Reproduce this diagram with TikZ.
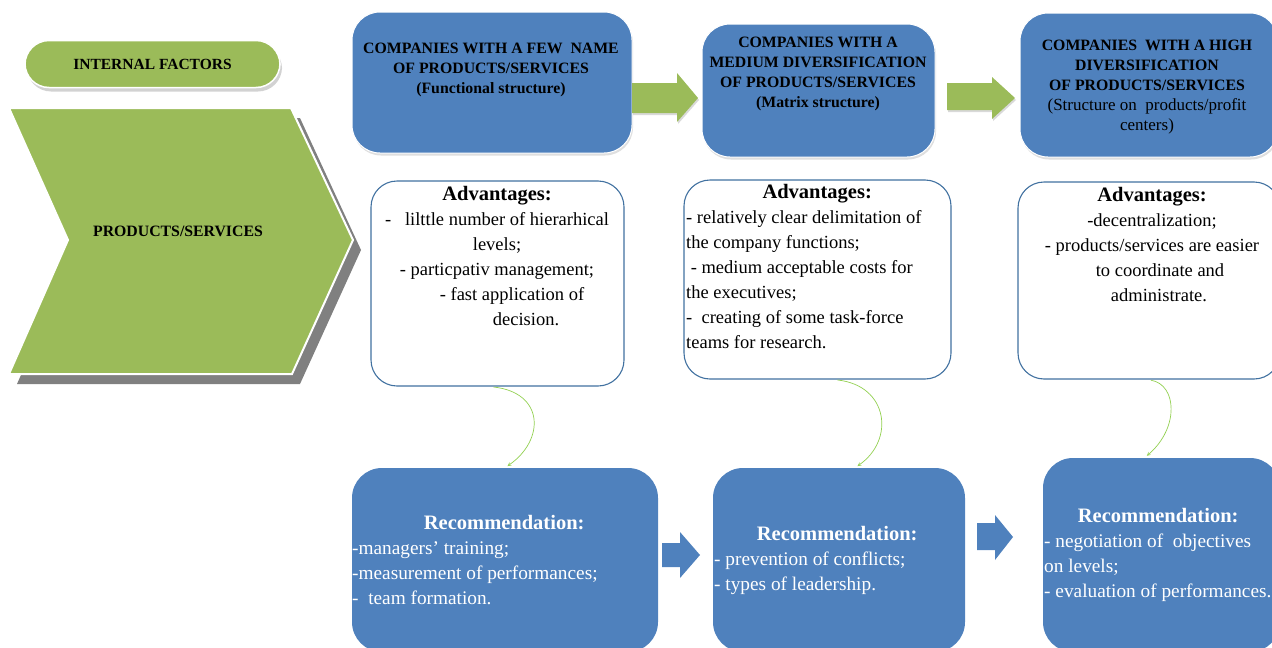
\documentclass[tikz,border=0pt]{standalone}
\usepackage{fontspec}
\setmainfont{Liberation Serif}
\usetikzlibrary{arrows,shadows,calc}
\definecolor{fac_green}{RGB}{155,187,89}
\definecolor{box_blue}{RGB}{79,129,189}
\definecolor{line_blue}{RGB}{65,113,160}
\definecolor{link_green}{RGB}{146,208,80}
\definecolor{shade_gray}{RGB}{128,128,128}
\newcommand{\hd}[1]{{\bfseries\fontsize{20.5}{25}\selectfont #1}}
\tikzstyle{pill}=[rectangle,rounded corners=24pt,fill=fac_green,draw=white,
  line width=1.5pt,minimum width=255pt,minimum height=47pt,
  drop shadow={shadow xshift=2pt,shadow yshift=-4pt,fill=shade_gray!70},
  font=\bfseries\fontsize{15.5}{20}\selectfont]
\tikzstyle{topbox}=[rectangle,rounded corners=28pt,fill=box_blue,draw=white,
  line width=1pt,drop shadow={shadow xshift=1pt,shadow yshift=-2.5pt,fill=shade_gray!50}]
\tikzstyle{advbox}=[rectangle,rounded corners=26pt,fill=white,draw=line_blue,
  line width=1.1pt]
\tikzstyle{recbox}=[rectangle,rounded corners=30pt,fill=box_blue]
\tikzstyle{caps}=[align=center,inner sep=0pt,font=\bfseries\fontsize{15.8}{20}\selectfont]
\tikzstyle{body}=[inner sep=0pt,font=\fontsize{18.5}{25}\selectfont]
\tikzstyle{wbody}=[inner sep=0pt,text=white,font=\fontsize{19.3}{25}\selectfont]
\tikzstyle{garrow}=[fill=fac_green,drop shadow={shadow xshift=1pt,shadow yshift=-2pt,fill=shade_gray!60}]
\tikzstyle{barrow}=[fill=box_blue]
\tikzstyle{curl}=[draw=link_green,line width=0.7pt,->,>=stealth,
  shorten <=4pt,shorten >=3pt]
\tikzstyle{none}=[]
\begin{document}
\begin{tikzpicture}[x=1pt,y=-1pt]
	\useasboundingbox (0,0) rectangle (1272,648);
	\clip (0,0) rectangle (1272,648);
	% left column
	\node [style=pill] (0) at (152.5, 64) {INTERNAL FACTORS};
	\fill [shade_gray] (17,118) -- (300,118) -- (361,250) -- (300,384) -- (17,384) -- (76,250) -- cycle;
	\filldraw [fill=fac_green,draw=white,line width=2pt] (9,108) -- (291,108) -- (353,240) -- (292,374) -- (9,374) -- (68,240) -- cycle;
	\node [style=caps] (1) at (178, 231) {PRODUCTS/SERVICES};
	% top row
	\node [style=topbox, minimum width=280pt, minimum height=141pt] (2) at (492, 82.5) {};
	\node [style=topbox, minimum width=233pt, minimum height=133pt] (3) at (818.5, 90.5) {};
	\node [style=topbox, minimum width=258pt, minimum height=144pt] (4) at (1149, 85) {};
	\node [style=caps] (5) at (491, 70) {COMPANIES WITH A FEW\ \ NAME\\ OF PRODUCTS/SERVICES\\ (Functional structure)};
	\node [style=caps] (6) at (818, 74) {COMPANIES WITH A\\ MEDIUM DIVERSIFICATION\\ OF PRODUCTS/SERVICES\\ (Matrix structure)};
	\node [style=caps] (7) at (1147, 87) {COMPANIES\ \ WITH A HIGH\\ DIVERSIFICATION\\ OF PRODUCTS/SERVICES\\ {\mdseries\fontsize{17}{20}\selectfont (Structure on\ \ products/profit}\\ {\mdseries\fontsize{17}{20}\selectfont centers)}};
	\fill [style=garrow] (632,83) -- (677,83) -- (677,73) -- (698,98) -- (677,122) -- (677,113) -- (632,113) -- cycle;
	\fill [style=garrow] (947,83) -- (992,83) -- (992,77) -- (1015,98) -- (992,119) -- (992,110) -- (947,110) -- cycle;
	% advantages
	\node [style=advbox, minimum width=253pt, minimum height=205pt] (8) at (497.5, 283.5) {};
	\node [style=advbox, minimum width=267pt, minimum height=199pt] (9) at (817.5, 279.5) {};
	\node [style=advbox, minimum width=262pt, minimum height=197pt] (10) at (1149, 280.5) {};
	\node [style=body, align=center] (11) at (497, 256) {\hd{Advantages:}\\ -\ \ \ lilttle number of hierarhical\\ levels;\\ - particpativ management;\\ \hspace*{30pt}- fast application of\\ \hspace*{58pt}decision.};
	\node [style=body, align=left, anchor=west] (12) at (686, 267) {\makebox[262pt]{\hd{Advantages:}}\\ - relatively clear delimitation of\\ the company functions;\\ \ - medium acceptable costs for\\ the executives;\\ -\ \ creating of some task-force\\ teams for research.};
	\node [style=body, align=center] (13) at (1152, 245) {\hd{Advantages:}\\ -decentralization;\\ - products/services are easier\\ \hspace*{16pt}to coordinate and\\ \hspace*{14pt}administrate.};
	% recommendations
	\node [style=recbox, minimum width=306pt, minimum height=184pt] (14) at (505, 560) {};
	\node [style=recbox, minimum width=252pt, minimum height=184pt] (15) at (839, 560) {};
	\node [style=recbox, minimum width=237pt, minimum height=194pt] (16) at (1161.5, 555) {};
	\node [style=wbody, align=left, anchor=west] (17) at (352, 560) {\makebox[304pt]{\hd{Recommendation:}}\\ -managers’ training;\\ -measurement of performances;\\ -\ \ team formation.};
	\node [style=wbody, align=left, anchor=west] (18) at (714, 560) {\makebox[246pt]{\hd{Recommendation:}}\\ - prevention of conflicts;\\ - types of leadership.};
	\node [style=wbody, align=left, anchor=west] (19) at (1044, 555) {\makebox[228pt]{\hd{Recommendation:}}\\ - negotiation of\ \ objectives\\ on levels;\\ - evaluation of performances.};
	\fill [style=barrow] (662,543) -- (680,543) -- (680,532) -- (700,555) -- (680,578) -- (680,567) -- (662,567) -- cycle;
	\fill [style=barrow] (977,523) -- (995,523) -- (995,515) -- (1013,537) -- (995,560) -- (995,550) -- (977,550) -- cycle;
	% links
	\draw [style=curl] ([xshift=-8pt]8.south) .. controls +(55,6) and +(40,-28) .. (14.north);
	\draw [style=curl] ([xshift=16pt]9.south) .. controls +(55,6) and +(40,-28) .. ([xshift=16pt]15.north);
	\draw [style=curl] ([xshift=-2pt]10.south) .. controls +(30,5) and +(35,-30) .. ([xshift=-17pt]16.north);
\end{tikzpicture}
\end{document}
